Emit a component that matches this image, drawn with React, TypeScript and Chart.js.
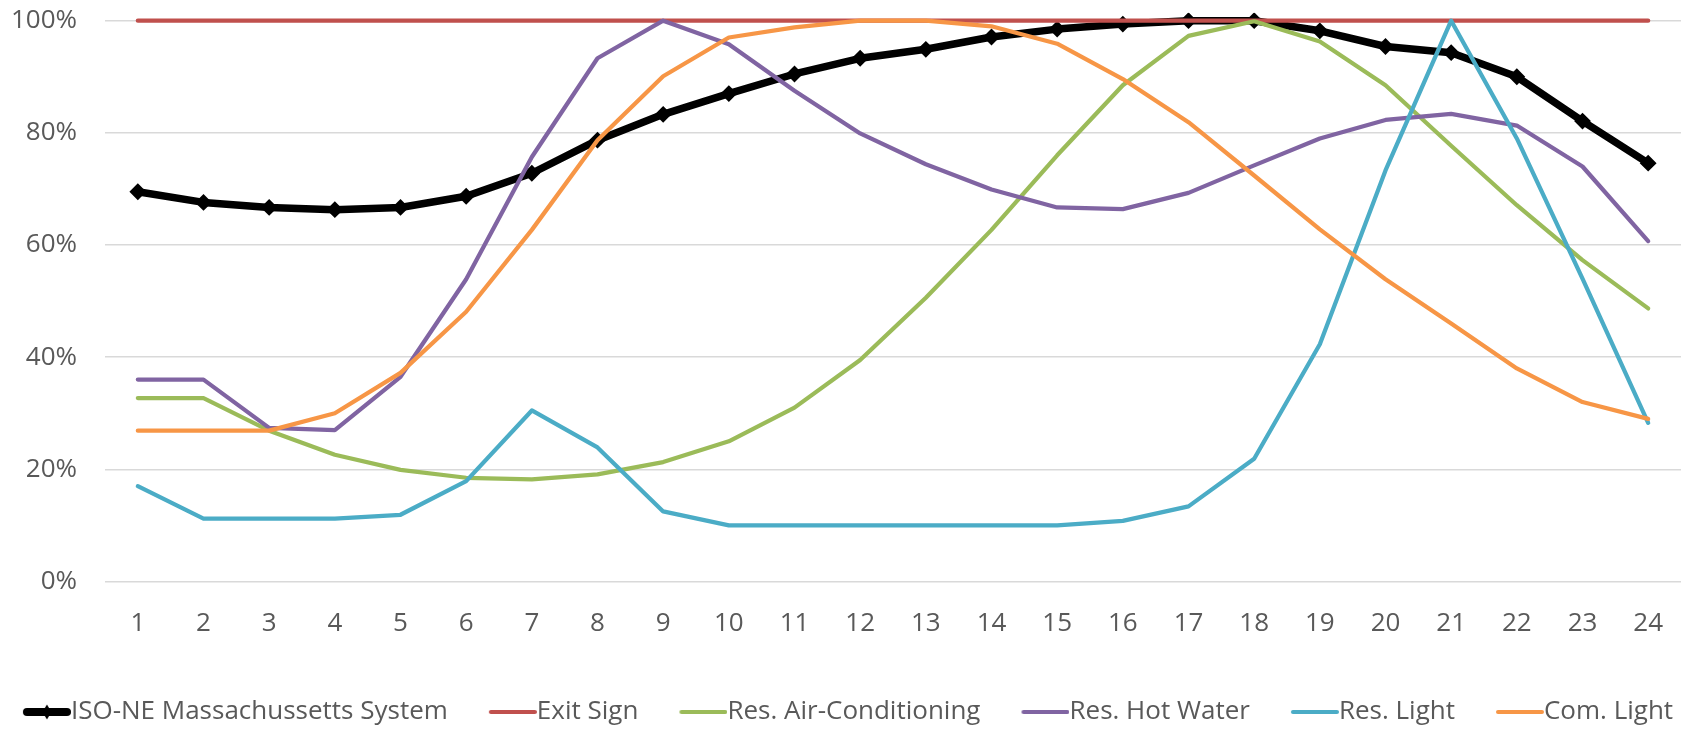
import React, { useEffect, useRef } from 'react';
import { Chart, registerables } from 'chart.js';

Chart.register(...registerables);

const hours = ['1', '2', '3', '4', '5', '6', '7', '8', '9', '10', '11', '12', '13', '14', '15', '16', '17', '18', '19', '20', '21', '22', '23', '24'];

const isoNE = [69.5, 67.6, 66.7, 66.3, 66.7, 68.7, 72.8, 78.7, 83.3, 87.0, 90.5, 93.3, 94.9, 97.1, 98.5, 99.4, 100, 100, 98.2, 95.4, 94.3, 90.0, 82.1, 74.6];
const exitSign = [100, 100, 100, 100, 100, 100, 100, 100, 100, 100, 100, 100, 100, 100, 100, 100, 100, 100, 100, 100, 100, 100, 100, 100];
const resAC = [32.7, 32.7, 26.9, 22.6, 19.9, 18.5, 18.2, 19.1, 21.3, 25.0, 31.0, 39.5, 50.6, 62.7, 76.0, 88.5, 97.3, 99.9, 96.3, 88.5, 77.7, 67.1, 57.3, 48.7];
const resHotWater = [36.0, 36.0, 27.4, 27.0, 36.5, 53.9, 75.7, 93.3, 100, 95.8, 87.5, 79.9, 74.4, 69.9, 66.7, 66.4, 69.3, 74.2, 79.0, 82.3, 83.4, 81.3, 74.0, 60.7];
const resLight = [17.0, 11.2, 11.2, 11.2, 11.9, 17.9, 30.5, 23.9, 12.5, 10.0, 10.0, 10.0, 10.0, 10.0, 10.0, 10.8, 13.4, 21.9, 42.3, 73.3, 100, 79.0, 54.0, 28.3];
const comLight = [26.9, 26.9, 26.9, 30.0, 37.2, 48.1, 62.7, 78.7, 90.1, 97.0, 98.8, 100, 100, 99.0, 95.9, 89.6, 81.9, 72.4, 62.8, 53.9, 46.0, 38.0, 32.0, 29.0];

const seriesNames = ['ISO-NE Massachussetts System', 'Exit Sign', 'Res. Air-Conditioning', 'Res. Hot Water', 'Res. Light', 'Com. Light'];
const seriesColors = ['#000000', '#C0504D', '#9BBB59', '#8064A2', '#4BACC6', '#F79646'];
const yTicks = [0, 20, 40, 60, 80, 100];

const FONT = "'Open Sans', sans-serif";
const TEXT_COLOR = '#595959';
const LEGEND_FONT = 26;
const LEGEND_LINE = 48; // visible sample line length
const LEGEND_LEAD = 39; // blank lead inside each item (acts as gap between items)
const LEGEND_PAD = 2;
const POINT_W = LEGEND_LINE + LEGEND_LEAD - LEGEND_FONT / 2;
const PAD_LEFT = -24;

// Chart.js centres the image at x + POINT_W/2; the visible line runs from
// x + LEGEND_LEAD to the start of the text (x + POINT_W + font/2).
function makeMarker(color: string, lw: number, diamond: boolean): HTMLCanvasElement {
  const center = POINT_W / 2;
  const lineEnd = POINT_W + LEGEND_FONT / 2;
  const W = Math.round(2 * (lineEnd - center));
  const H = 18;
  const c = document.createElement('canvas');
  c.width = W;
  c.height = H;
  const g = c.getContext('2d')!;
  const toImg = (rx: number) => rx - center + W / 2;
  const x0 = toImg(LEGEND_LEAD);
  const x1 = toImg(lineEnd);
  const cy = H / 2;
  g.strokeStyle = color;
  g.lineWidth = lw;
  g.lineCap = 'round';
  g.beginPath();
  g.moveTo(x0 + lw / 2, cy);
  g.lineTo(x1 - lw / 2, cy);
  g.stroke();
  if (diamond) {
    const cx = (x0 + x1) / 2;
    g.fillStyle = color;
    g.beginPath();
    g.moveTo(cx, cy - 7.5);
    g.lineTo(cx + 4.5, cy);
    g.lineTo(cx, cy + 7.5);
    g.lineTo(cx - 4.5, cy);
    g.closePath();
    g.fill();
  }
  return c;
}

export default function App() {
  const ref = useRef<HTMLCanvasElement>(null);

  useEffect(() => {
    if (!ref.current) return;
    const values = [isoNE, exitSign, resAC, resHotWater, resLight, comLight];
    const markers = seriesColors.map((c, i) => (i === 0 ? makeMarker(c, 8, true) : makeMarker(c, 4, false)));

    const datasets: any[] = values.map((data, i) => ({
      label: seriesNames[i],
      data,
      borderColor: seriesColors[i],
      backgroundColor: seriesColors[i],
      borderWidth: i === 0 ? 7.5 : 4.25,
      borderCapStyle: 'round',
      borderJoinStyle: 'round',
      pointStyle: 'rectRot',
      pointRadius: i === 0 ? 7 : 0,
      pointBorderWidth: i === 0 ? 2 : 0,
      pointHoverRadius: i === 0 ? 7 : 0,
      tension: 0,
      fill: false,
      clip: 8,
      order: 6 - i,
    }));

    const chart = new Chart(ref.current, {
      type: 'line',
      data: { labels: hours, datasets },
      options: {
        animation: false,
        responsive: false,
        maintainAspectRatio: false,
        layout: { padding: { top: 20.7, right: 16, left: PAD_LEFT, bottom: -6 } },
        plugins: {
          tooltip: { enabled: false },
          title: { display: false },
          legend: {
            display: true,
            position: 'bottom',
            align: 'center',
            labels: {
              usePointStyle: true,
              pointStyleWidth: POINT_W,
              padding: LEGEND_PAD,
              color: TEXT_COLOR,
              font: { family: FONT, size: LEGEND_FONT },
              generateLabels: (ch: any) =>
                ch.data.datasets.map((ds: any, i: number) => ({
                  text: ds.label,
                  fillStyle: seriesColors[i],
                  strokeStyle: seriesColors[i],
                  lineWidth: 0,
                  pointStyle: markers[i],
                  hidden: false,
                  datasetIndex: i,
                  fontColor: TEXT_COLOR,
                })),
            },
          },
        },
        scales: {
          x: {
            offset: true,
            grid: { display: false, drawTicks: false },
            border: { display: false },
            ticks: {
              color: TEXT_COLOR,
              font: { family: FONT, size: 26 },
              padding: 26,
              maxRotation: 0,
              autoSkip: false,
            },
            afterFit: (scale: any) => {
              scale.height = 115.5;
            },
          },
          y: {
            min: 0,
            max: 100,
            afterBuildTicks: (scale: any) => {
              scale.ticks = yTicks.map((v) => ({ value: v }));
            },
            grid: { color: '#d9d9d9', lineWidth: 1.5, drawTicks: false },
            border: { display: false },
            ticks: {
              color: TEXT_COLOR,
              font: { family: FONT, size: 26 },
              padding: 28,
              callback: (v: any) => `${v}%`,
            },
            afterFit: (scale: any) => {
              scale.width = 105 - PAD_LEFT;
              scale.paddingTop = 14;
              scale.paddingBottom = 14;
            },
          },
        },
      },
    });
    return () => chart.destroy();
  }, []);

  return (
    <div style={{ position: 'absolute', left: 0, top: 0, width: 1697, height: 729, background: '#ffffff' }}>
      <canvas ref={ref} width={1697} height={729} style={{ display: 'block' }} />
    </div>
  );
}
